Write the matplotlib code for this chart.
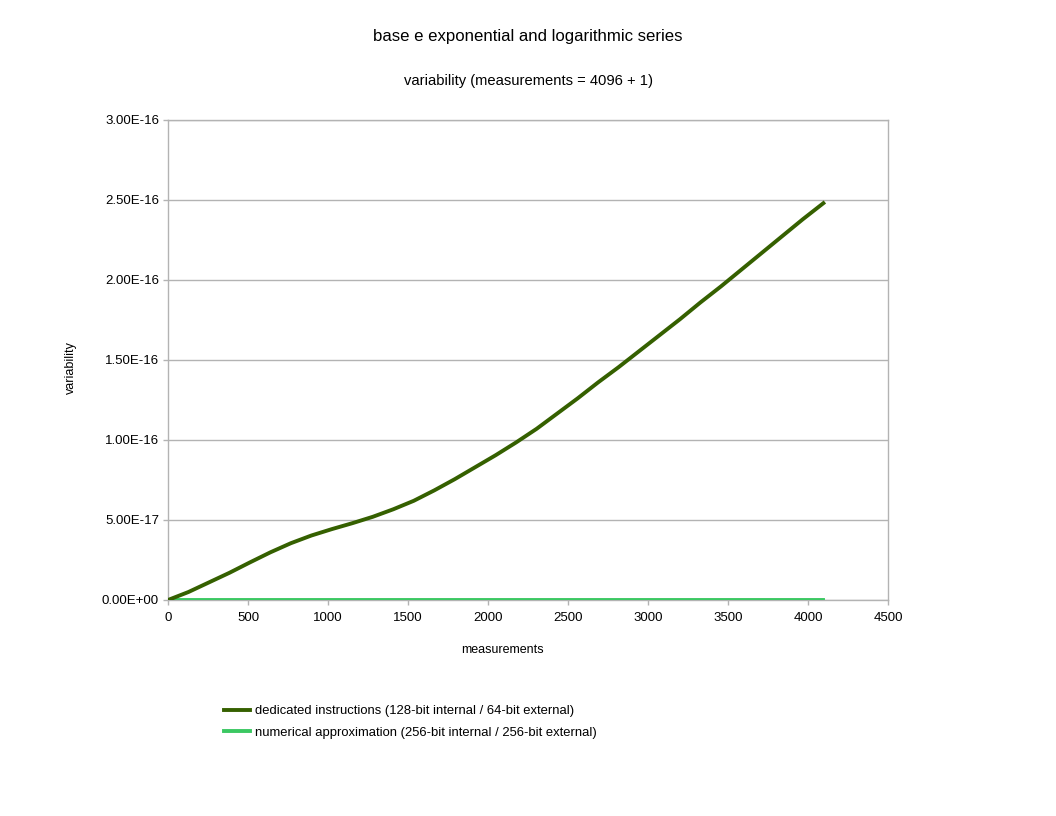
import matplotlib
matplotlib.use("Agg")
import matplotlib.pyplot as plt
from matplotlib.ticker import FuncFormatter

plt.rcParams['font.family'] = ['Liberation Sans', 'DejaVu Sans']

measurements = [0, 128, 256, 384, 512, 640, 768, 896, 1024, 1152, 1280, 1408, 1536,
                1664, 1792, 1920, 2048, 2176, 2304, 2432, 2560, 2688, 2816, 2944,
                3072, 3200, 3328, 3456, 3584, 3712, 3840, 3968, 4096]
dedicated = [0.0, 0.05, 0.11, 0.17, 0.235, 0.298, 0.355, 0.403, 0.443, 0.48, 0.52,
             0.567, 0.62, 0.685, 0.755, 0.83, 0.905, 0.985, 1.07, 1.165, 1.26, 1.36,
             1.455, 1.555, 1.655, 1.755, 1.86, 1.96, 2.065, 2.17, 2.275, 2.38, 2.48]
dedicated = [v * 1e-16 for v in dedicated]
numerical = [0.0] * len(measurements)

labels = ["dedicated instructions (128-bit internal / 64-bit external)",
          "numerical approximation (256-bit internal / 256-bit external)"]
colors = ["#356000", "#3bc862"]

fig = plt.figure(figsize=(10.56, 8.16), dpi=100)
ax = fig.add_axes([168/1056, 1-600/816, 720/1056, 480/816])

l2, = ax.plot(measurements, numerical, color=colors[1], lw=2.8, zorder=3)
l1, = ax.plot(measurements, dedicated, color=colors[0], lw=2.8, zorder=4)

ax.set_xlim(0, 4500)
ax.set_ylim(0, 3e-16)
ax.set_xticks(range(0, 4501, 500))
ax.set_yticks([i * 5e-17 for i in range(7)])
ax.yaxis.set_major_formatter(FuncFormatter(lambda v, p: ("%.2E" % v)))
ax.yaxis.get_offset_text().set_visible(False)
ax.grid(axis='y', color='#b3b3b3', lw=1)
ax.set_axisbelow(True)
for s in ax.spines.values():
    s.set_color('#b3b3b3')
    s.set_linewidth(1)
ax.tick_params(axis='both', colors='#b3b3b3', labelcolor='black', labelsize=9.5,
               length=3.6, width=1, direction='out')
ax.tick_params(axis='y', pad=2.9)
ax.tick_params(axis='x', pad=5.0)

fig.text(528/1056, 1-36/816, "base e exponential and logarithmic series",
         ha='center', va='center', fontsize=12.1)
fig.text(528/1056, 1-81/816, "variability (measurements = 4096 + 1)",
         ha='center', va='center', fontsize=10.65)
fig.text(71/1056, 1-368/816, "variability", rotation=90, ha='center', va='center', fontsize=9)
fig.text(502/1056, 1-650/816, "measurements", ha='center', va='center', fontsize=9)

fig.legend([l1, l2], labels, loc='upper left', bbox_to_anchor=(219/1056, 1-700/816),
           frameon=False, fontsize=9.35, handlelength=2.0, handletextpad=0.35,
           labelspacing=0.72, borderaxespad=0)

fig.savefig("out.png", dpi=100)
